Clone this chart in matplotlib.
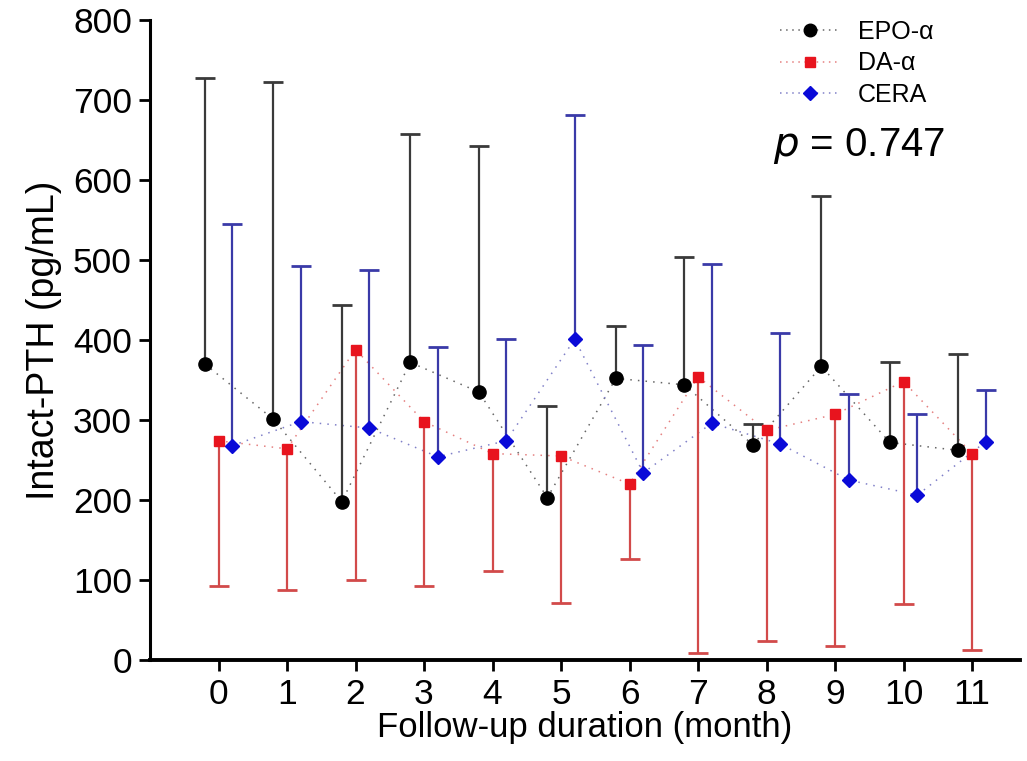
import matplotlib
matplotlib.use("Agg")
import matplotlib.pyplot as plt
import numpy as np

plt.rcParams['font.family'] = ['Liberation Sans', 'DejaVu Sans']

months = list(range(12))
month_labels = [str(m) for m in months]

# Intact-PTH (pg/mL): mean and SD per month for each ESA group
epo_mean = [370, 301, 198, 372, 335, 203, 352, 344, 269, 367, 272, 262]
epo_sd = [357, 421, 246, 285, 308, 115, 66, 160, 26, 213, 100, 121]

da_mean = [274, 264, 388, 298, 258, 255, 220, 354, 287, 307, 348, 258]
da_sd = [182, 177, 288, 206, 147, 184, 94, 345, 263, 290, 278, 246]

cera_mean = [268, 298, 290, 254, 274, 401, 234, 296, 270, 225, 206, 273]
cera_sd = [277, 194, 197, 137, 127, 280, 160, 199, 139, 108, 101, 64]

p_value = 0.747

fig = plt.figure(figsize=(10.27, 7.61), dpi=100)
ax = fig.add_axes([150 / 1027, 1 - 660 / 761, (1020 - 150) / 1027, (660 - 20) / 761])

x = np.array(months, dtype=float)

series = [
    # label, mean, sd, offset, marker, size, marker colour, bar colour, link colour, side
    ("EPO-α", epo_mean, epo_sd, -0.2, 'o', 9.5, '#000000', '#3a3a3a', '#666666', 'up'),
    ("DA-α", da_mean, da_sd, 0.0, 's', 7.5, '#e8141e', '#d24a4a', '#e58080', 'down'),
    ("CERA", cera_mean, cera_sd, 0.2, 'D', 7.5, '#0a0ad8', '#3a3aa8', '#8080c8', 'up'),
]

handles = []
for label, mean, sd, off, mk, ms, mc, bc, lc, side in series:
    mean = np.asarray(mean, dtype=float)
    sd = np.asarray(sd, dtype=float)
    xs = x + off
    if side == 'up':
        yerr = [np.zeros_like(sd), sd]
    else:
        yerr = [sd, np.zeros_like(sd)]
    _, caps, bars = ax.errorbar(xs, mean, yerr=yerr, fmt='none', ecolor=bc,
                                elinewidth=1.6, capsize=7.5, capthick=2.0, zorder=2)
    # keep only the cap at the far end of each one-sided bar
    if side == 'up':
        caps[0].set_visible(False)
        caps[1].set_color('#000000' if mc == '#000000' else bc)
    else:
        caps[1].set_visible(False)
    ax.plot(xs, mean, linestyle=(0, (1, 4)), color=lc, linewidth=1.1, zorder=1)
    ax.plot(xs, mean, linestyle='none', marker=mk, markersize=ms, color=mc,
            markeredgecolor=mc, zorder=3)
    h, = ax.plot([], [], linestyle=(0, (1, 3)), color=lc, linewidth=1.1,
                 marker=mk, markersize=ms * 0.95, markerfacecolor=mc, markeredgecolor=mc)
    handles.append((h, label))

ax.set_xlim(-1.0, 11.7)
ax.set_ylim(0, 800)
ax.set_xticks(months)
ax.set_xticklabels(month_labels)
ax.set_yticks(range(0, 801, 100))

for side in ('top', 'right'):
    ax.spines[side].set_visible(False)
ax.spines['left'].set_linewidth(2.2)
ax.spines['bottom'].set_linewidth(2.8)
ax.tick_params(axis='both', direction='out', length=8, width=2, labelsize=25.5, colors='#000000')
ax.tick_params(axis='x', pad=5)
ax.tick_params(axis='y', pad=5)

ax.set_xlabel("Follow-up duration (month)", fontsize=25, labelpad=0)
ax.set_ylabel("Intact-PTH (pg/mL)", fontsize=27, labelpad=8)

leg = ax.legend([h for h, _ in handles], [l for _, l in handles],
                loc='upper left', bbox_to_anchor=(780 / 1027, 1 - 20 / 761),
                bbox_transform=fig.transFigure, frameon=False, fontsize=18,
                handlelength=2.4, handletextpad=0.7, labelspacing=0.3,
                borderaxespad=0, borderpad=0)

fig.text(773 / 1027, 1 - 146 / 761, f"$p$ = {p_value:.3f}", fontsize=29,
         ha='left', va='center')

fig.savefig("out.png", dpi=100, facecolor='white')
